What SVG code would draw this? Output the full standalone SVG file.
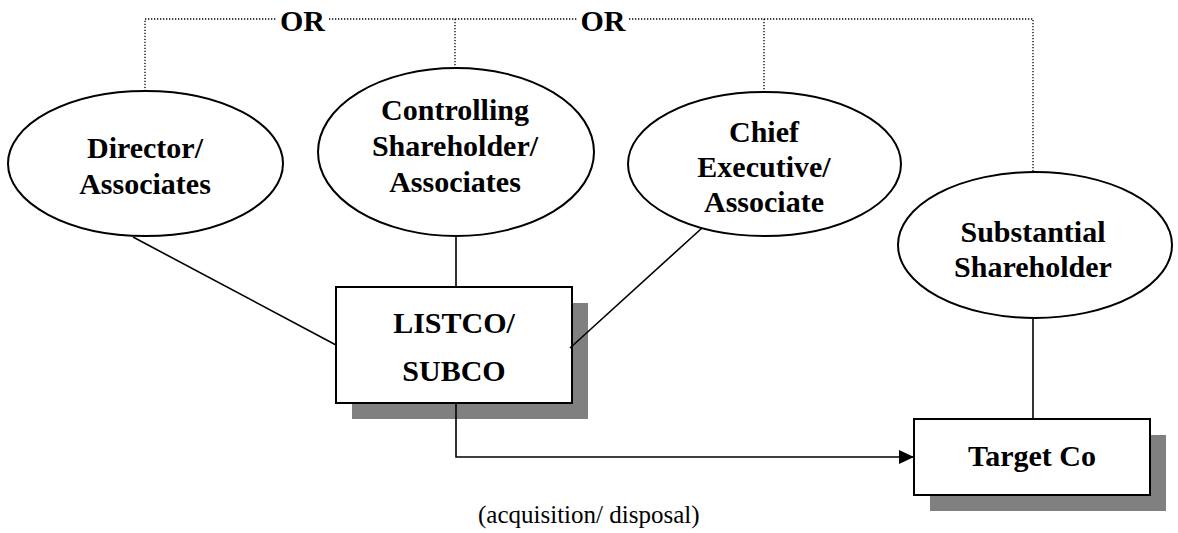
<svg xmlns="http://www.w3.org/2000/svg" width="1178" height="533" viewBox="0 0 1178 533">
  <style>
    text { font-family: 'Liberation Serif', 'DejaVu Serif', serif; }
    .lbl { font-weight: bold; font-size: 30px; fill: #000; text-anchor: middle; }
    .note { font-size: 25px; fill: #000; }
    .shape { fill: #fff; stroke: #000; stroke-width: 2; }
    .shadow { fill: #808080; stroke: none; }
    .solid { fill: none; stroke: #000; stroke-width: 1.6; }
    .dotted { fill: none; stroke: #000; stroke-width: 1.3; stroke-dasharray: 1.3 1.7; }
  </style>
  <defs>
    <marker id="arrow" markerWidth="16" markerHeight="14" refX="15" refY="7" orient="auto" markerUnits="userSpaceOnUse">
      <path d="M0,0 L15,7 L0,14 Z" fill="#000"/>
    </marker>
  </defs>
  <rect width="1178" height="533" fill="#fff"/>

  <g id="director">
    <ellipse class="shape" cx="145.5" cy="163.5" rx="137.5" ry="72.5"/>
    <text class="lbl" x="145" y="158">Director/</text>
    <text class="lbl" x="145" y="194">Associates</text>
  </g>

  <g id="controlling">
    <ellipse class="shape" cx="456" cy="152" rx="138" ry="84"/>
    <text class="lbl" x="455" y="120">Controlling</text>
    <text class="lbl" x="455" y="156">Shareholder/</text>
    <text class="lbl" x="455" y="192">Associates</text>
  </g>

  <g id="chief">
    <ellipse class="shape" cx="764.5" cy="164" rx="136.5" ry="72"/>
    <text class="lbl" x="764" y="142">Chief</text>
    <text class="lbl" x="764" y="177">Executive/</text>
    <text class="lbl" x="764" y="212">Associate</text>
  </g>

  <g id="substantial">
    <ellipse class="shape" cx="1035" cy="245" rx="137" ry="73"/>
    <text class="lbl" x="1033" y="242">Substantial</text>
    <text class="lbl" x="1033" y="277">Shareholder</text>
  </g>

  <g id="listco">
    <rect class="shadow" x="352" y="303" width="236" height="116"/>
    <rect class="shape" x="336" y="287" width="236" height="116"/>
    <text class="lbl" x="454" y="333">LISTCO/</text>
    <text class="lbl" x="454" y="381">SUBCO</text>
  </g>

  <g id="target">
    <rect class="shadow" x="930" y="435" width="236" height="76"/>
    <rect class="shape" x="914" y="419" width="236" height="76"/>
    <text class="lbl" x="1032" y="466">Target Co</text>
  </g>

  <!-- connectors, drawn over the box shadows -->
  <g id="connectors">
    <!-- dotted "OR" bracket across the top -->
    <path class="dotted" d="M145,91 V19 H276 M329,19 H577 M629,19 H1033 V172 M455,19 V68 M764,19 V92"/>
    <text class="lbl" x="302.5" y="31">OR</text>
    <text class="lbl" x="603" y="31">OR</text>
    <!-- relationships to LISTCO/SUBCO -->
    <line class="solid" x1="133" y1="237" x2="336" y2="345"/>
    <line class="solid" x1="456" y1="236" x2="456" y2="287"/>
    <line class="solid" x1="702" y1="228" x2="570" y2="348"/>
    <!-- Substantial Shareholder to Target Co -->
    <line class="solid" x1="1033" y1="318" x2="1033" y2="419"/>
    <!-- transaction arrow -->
    <path class="solid" d="M456,404 V457 H914" marker-end="url(#arrow)"/>
    <text class="note" x="478" y="523">(acquisition/ disposal)</text>
  </g>
</svg>
